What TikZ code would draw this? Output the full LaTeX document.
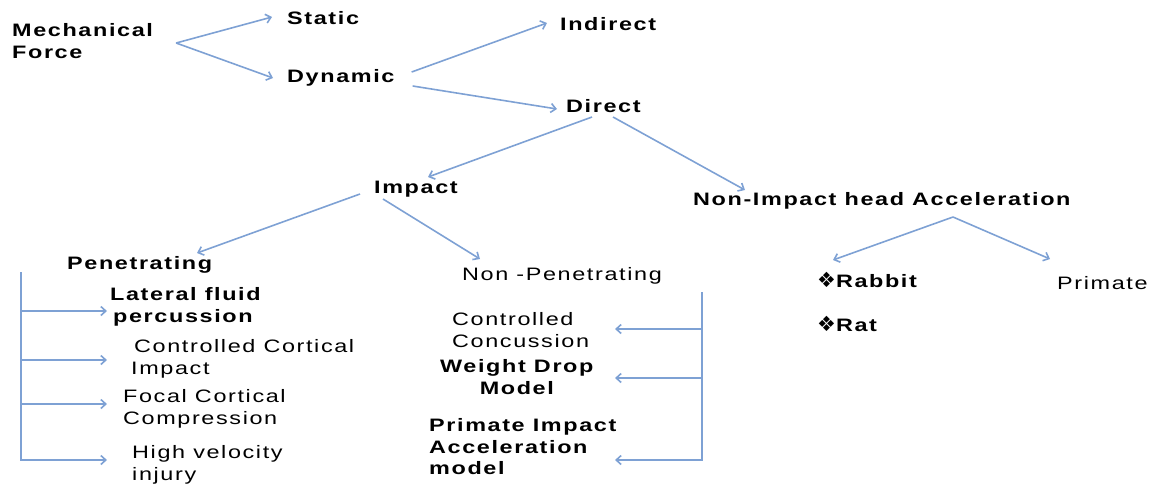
\documentclass[tikz,border=0pt]{standalone}
\usepackage{fontspec}
\usetikzlibrary{arrows.meta,calc}
\newfontfamily\labfont[FakeStretch=1.3, LetterSpace=9]{Liberation Sans}
\newfontfamily\symfont{DejaVu Sans}
\definecolor{linkblue}{HTML}{7EA1D4}
\newcommand\diabullet{{\symfont\fontsize{21pt}{21pt}\selectfont ❖}}
\tikzset{
  lab/.style={inner sep=0pt, anchor=west, align=left},
  hd/.style={lab, font=\labfont\bfseries\fontsize{18pt}{21.5pt}\selectfont},
  rg/.style={lab, font=\labfont\fontsize{18pt}{21.5pt}\selectfont},
  link/.style={draw=linkblue, line width=1.6pt, -{Straight Barb[length=5pt,width=9pt]}},
  spine/.style={draw=linkblue, line width=2.4pt},
}

\begin{document}
\begin{tikzpicture}[x=1pt, y=-1pt]%
\useasboundingbox (0,0) rectangle (1167,491);%
% top levels
\node[hd] (mech) at (12, 41) {Mechanical\\Force};%
\node[hd] (static) at (287, 18) {Static};%
\node[hd] (dynamic) at (287, 78) {Dynamic};%
\node[hd] (indirect) at (560, 24) {Indirect};%
\node[hd] (direct) at (566, 106) {Direct};%
\node[hd] (impact) at (374, 189) {Impact};%
\node[hd] (nonimpact) at (693, 201) {Non-Impact head Acceleration};%
\node[hd] (pen) at (67, 265) {Penetrating};%
\node[rg] (nonpen) at (462, 276) {Non -Penetrating};%
% penetrating models
\node[hd] (lfp) at (110, 307) {Lateral fluid\\\,percussion};%
\node[rg] (cci) at (131, 359) {\,Controlled Cortical\\Impact};%
\node[rg] (fcc) at (123, 409) {Focal Cortical\\Compression};%
\node[rg] (hvi) at (132, 465) {High velocity\\injury};%
% non-penetrating models
\node[rg] (ccon) at (452, 330) {Controlled\\Concussion};%
\node[hd, align=center] (wdm) at (440, 377) {Weight Drop\\Model};%
\node[hd] (pia) at (429, 447) {Primate Impact\\Acceleration\\model};%
% acceleration models
\node[hd] (rabbit) at (817, 280) {\diabullet Rabbit};%
\node[hd] (rat) at (817, 324) {\diabullet Rat};%
\node[rg] (primate) at (1057, 283) {Primate};%
% tree links
\draw[link] ($(mech.east)+(23,2)$) -- ($(static.west)+(-15,-1)$);%
\draw[link] ($(mech.east)+(23,2)$) -- ($(dynamic.west)+(-14,0)$);%
\draw[link] ($(dynamic.east)+(17,-6)$) -- ($(indirect.west)+(-13,-1)$);%
\draw[link] ($(dynamic.east)+(18,8)$) -- ($(direct.west)+(-9,3)$);%
\draw[link] ($(direct.west)+(26,11)$) -- ($(impact.west)+(54,-12)$);%
\draw[link] ($(direct.west)+(47,11)$) -- ($(nonimpact.west)+(52,-11)$);%
\draw[link] ($(impact.west)+(-14,5)$) -- ($(pen.west)+(130,-12)$);%
\draw[link] ($(impact.west)+(9,10)$) -- ($(nonpen.west)+(18,-17)$);%
\draw[link] ($(nonimpact.west)+(260,16)$) -- ($(rabbit.west)+(16,-20)$);%
\draw[link] ($(nonimpact.west)+(260,16)$) -- ($(primate.west)+(-7,-24)$);%
% brackets
\coordinate (ltop) at (21, 272);%
\coordinate (lbot) at (21, 461);%
\coordinate (rtop) at (702, 292);%
\coordinate (rbot) at (702, 461);%
\draw[spine] (ltop) -- (lbot);%
\draw[spine] (rtop) -- (rbot);%
\foreach \nd/\dy in {lfp/4, cci/1, fcc/-5, hvi/-5}
  \draw[link] ($(ltop |- \nd.west)+(0,\dy)$) -- ($(ltop |- \nd.west)+(86,\dy)$);%
\foreach \nd/\dy in {ccon/-1, wdm/1, pia/13}
  \draw[link] ($(rtop |- \nd.west)+(0,\dy)$) -- ($(rtop |- \nd.west)+(-87,\dy)$);%
\end{tikzpicture}
\end{document}
